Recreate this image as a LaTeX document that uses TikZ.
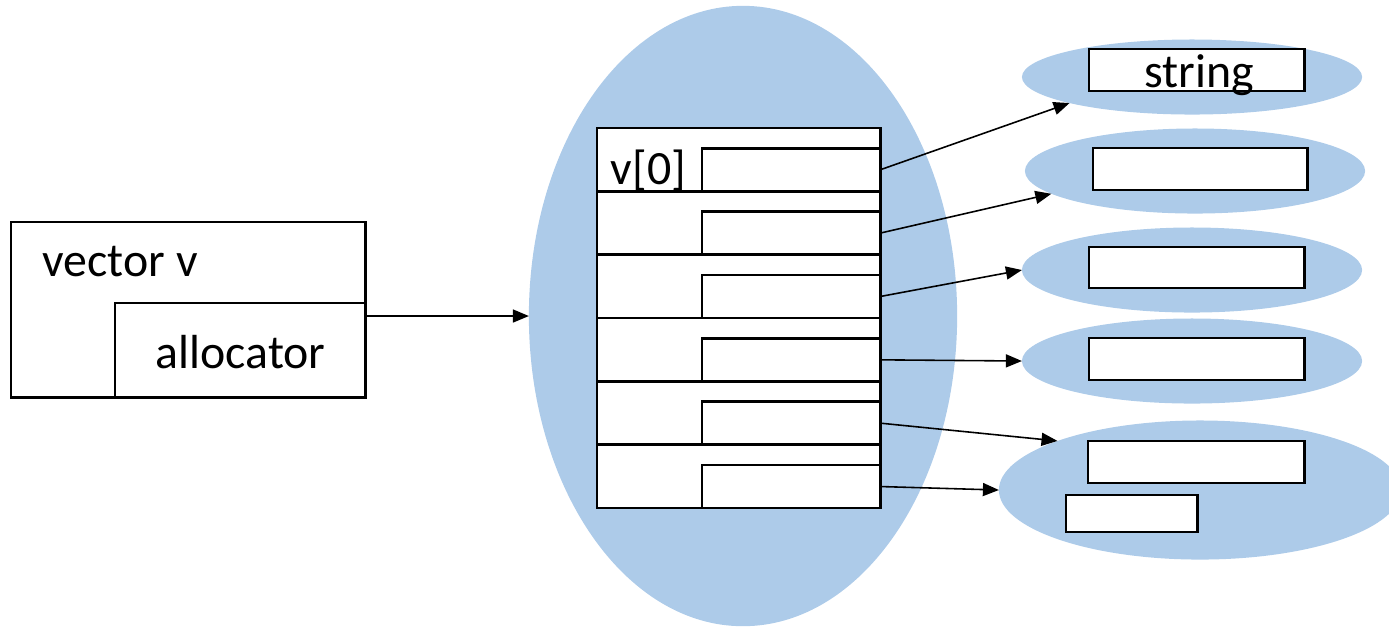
\documentclass[tikz,border=0pt]{standalone}
\usepackage{fontspec}
\setmainfont{Carlito}
\usetikzlibrary{shapes.geometric,arrows.meta}
\definecolor{blobblue}{RGB}{173,203,233}
\begin{document}
\begin{tikzpicture}[x=0.01cm,y=-0.01cm,
  blob/.style={ellipse, fill=blobblue, draw=none, inner sep=0pt, outer sep=0pt},
  cell/.style={draw=black, line width=0.8pt, fill=white, inner sep=0pt, outer sep=0pt, anchor=north west},
  lbl/.style={font=\fontsize{13.6pt}{16pt}\selectfont, inner sep=0pt, anchor=base west},
  link/.style={line width=0.45pt, -{Triangle[length=0.16cm,width=0.13cm]}}]
\useasboundingbox (0,0) rectangle (1389,626);
% big memory blob
\node[blob, minimum width=4.28cm, minimum height=6.2cm] (big) at (743,316) {};
% vector object
\node[cell, minimum width=3.54cm, minimum height=1.75cm] (vec) at (11,222) {};
\node[cell, minimum width=2.5cm, minimum height=0.94cm] (alloc) at (115,303) {};
\node[lbl] (vt) at (42,276) {vector v};
\node[lbl] (alt) at (155,368) {allocator};
% table of elements
\foreach \i/\t in {1/128,2/191.3,3/254.7,4/318,5/381.3,6/444.7}{
  \node[cell, minimum width=2.83cm, minimum height=0.633cm] (r\i) at (597,\t) {};
  \node[cell, minimum width=1.78cm, minimum height=0.43cm] (b\i) at (702,\t+20.3) {};
}
\node[lbl] (v0) at (610,184) {v[0]};
% string blobs
\node[blob, minimum width=3.4cm, minimum height=0.75cm] (E1) at (1192,77) {};
\node[blob, minimum width=3.4cm, minimum height=0.85cm] (E2) at (1195,171) {};
\node[blob, minimum width=3.4cm, minimum height=0.85cm] (E3) at (1192,270) {};
\node[blob, minimum width=3.4cm, minimum height=0.85cm] (E4) at (1192,361) {};
\node[blob, minimum width=4.02cm, minimum height=1.39cm] (E5) at (1200,490) {};
\node[cell, minimum width=2.15cm, minimum height=0.42cm] (s1) at (1089,49) {};
\node[lbl, anchor=base] (st) at (1199,87) {string};
\node[cell, minimum width=2.14cm, minimum height=0.42cm] (s2) at (1093,148) {};
\node[cell, minimum width=2.15cm, minimum height=0.41cm] (s3) at (1089,247) {};
\node[cell, minimum width=2.15cm, minimum height=0.42cm] (s4) at (1089,338) {};
\node[cell, minimum width=2.16cm, minimum height=0.42cm] (s5) at (1088,441) {};
\node[cell, minimum width=1.31cm, minimum height=0.37cm] (s6) at (1066,495) {};
% connectors
\draw[link] (alloc.east |- big.west) -- (big.west);
\draw[link] (b1.east) -- (E1.192);
\draw[link] (b2.east) -- (E2.189);
\draw[link] (b3.east) -- (E3.west);
\draw[link] (b4.east) -- (E4.west);
\draw[link] (b5.east) -- (E5.161);
\draw[link] (b6.east) -- (E5.west);
\end{tikzpicture}
\end{document}
